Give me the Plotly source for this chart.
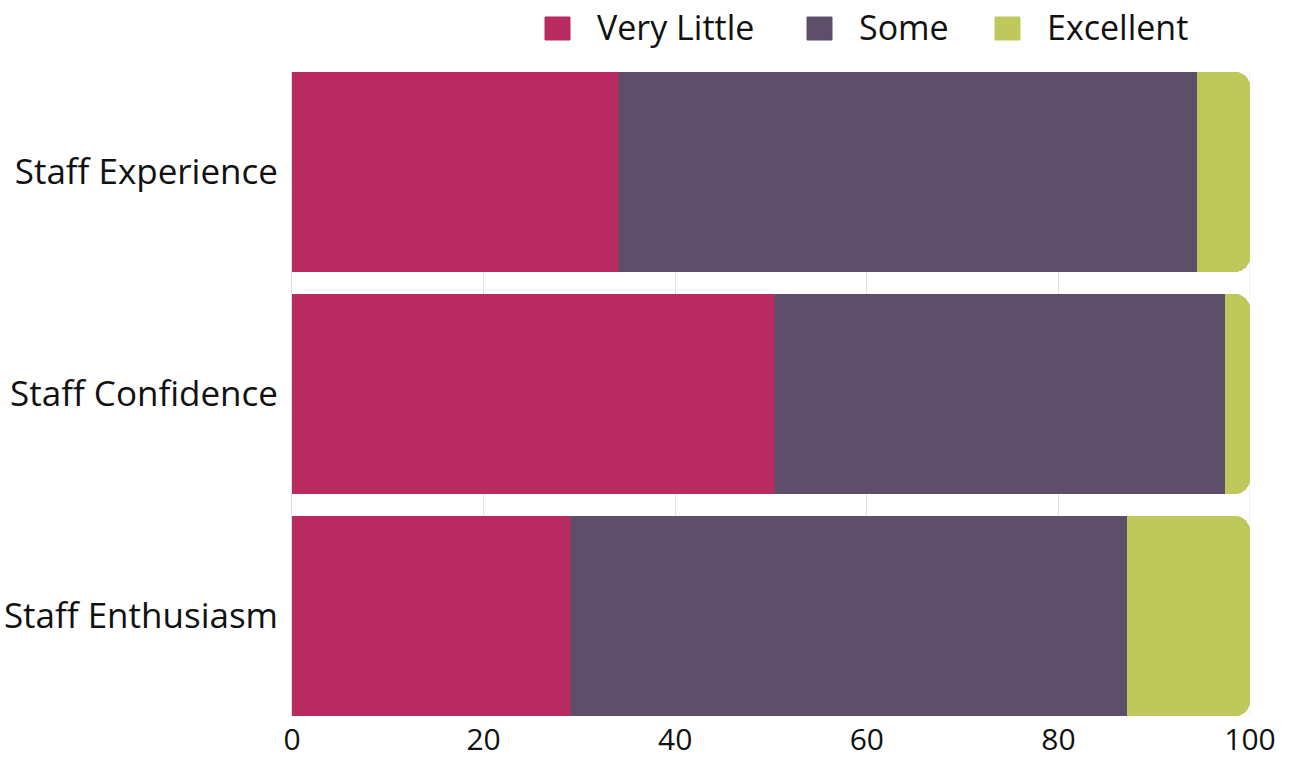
import plotly.graph_objects as go

categories = ["Staff Experience", "Staff Confidence", "Staff Enthusiasm"]
very_little = [34.1, 50.4, 29.1]
some = [60.4, 47.0, 58.1]
excellent = [5.5, 2.6, 12.8]
x_ticks = [0, 20, 40, 60, 80, 100]

series = [
    ("Very Little", very_little, "#B92A61"),
    ("Some", some, "#5D4F69"),
    ("Excellent", excellent, "#BFC85A"),
]

W, H = 1295, 760
L, R, T, B = 292, 45, 72, 44
pw, ph = W - L - R, H - T - B

def px_x(p):
    return (p - L) / pw

def px_y(p):
    return (H - B - p) / ph

fig = go.Figure()
for name, vals, color in series:
    fig.add_trace(go.Bar(
        y=categories, x=vals, name=name, orientation="h",
        marker=dict(color=color, line=dict(color=color, width=0.5)),
        showlegend=False,
    ))

# manual legend (large square swatches as in the reference)
legend_sq_left = [545, 807, 995]
for (name, _, color), sx in zip(series, legend_sq_left):
    fig.add_shape(type="rect", xref="paper", yref="paper",
                  x0=px_x(sx), x1=px_x(sx + 25), y0=px_y(40), y1=px_y(17),
                  fillcolor=color, line=dict(color=color, width=1))
    fig.add_annotation(xref="paper", yref="paper", x=px_x(sx + 50), y=px_y(27),
                       xanchor="left", yanchor="middle", text=name, showarrow=False,
                       font=dict(size=34, color="#111111"))

fig.update_layout(
    barmode="stack",
    bargap=0.1,
    barcornerradius=15,
    width=W, height=H,
    margin=dict(l=L, r=R, t=T, b=B, autoexpand=False),
    plot_bgcolor="white", paper_bgcolor="white",
    font=dict(family="Open Sans", size=32, color="#111111"),
    showlegend=False,
    xaxis=dict(range=[0, 100], tickvals=x_ticks, showgrid=True, gridcolor="#E3E3E3",
               gridwidth=1, zeroline=False, showline=False, ticks="", automargin=False,
               tickfont=dict(size=30), ticklabelstandoff=3),
    yaxis=dict(range=[2.45, -0.45], showgrid=False, showline=True, linecolor="#DDDDDD",
               ticks="", automargin=False, tickfont=dict(size=35), ticklabelstandoff=6),
)
fig.add_shape(type="line", x0=100, x1=100, y0=0, y1=1, xref="x", yref="paper",
              line=dict(color="#E3E3E3", width=1), layer="below")

fig.write_html("out.html")
